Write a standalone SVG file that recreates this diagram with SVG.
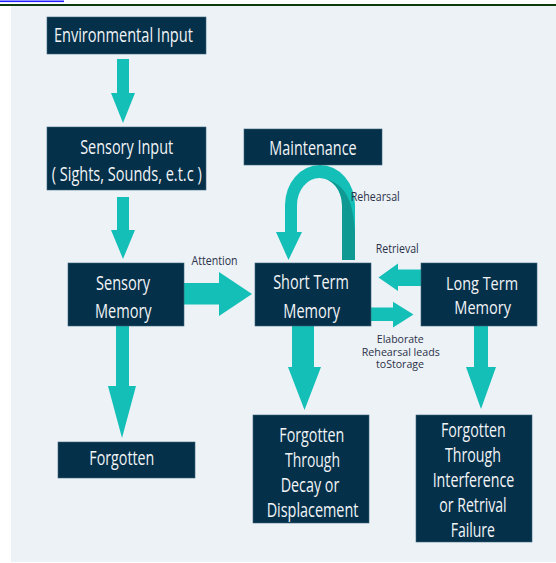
<svg xmlns="http://www.w3.org/2000/svg" width="556" height="563" viewBox="0 0 556 563">
<style>
.box{fill:#04304a;stroke:#3f6479;stroke-width:0.6}
.bt{font-family:"Open Sans","Liberation Sans",sans-serif;font-size:20px;fill:#f2f4f6;text-anchor:middle}
.lb{font-family:"Open Sans","Liberation Sans",sans-serif;font-size:13px;fill:#2b3148;text-anchor:middle}
.sm{font-size:11px}
.ar{fill:#13bfb7}
.dk{fill:#0e9a92}
</style>
<rect x="0" y="0" width="556" height="563" fill="#ffffff"/>
<rect x="11" y="6" width="545" height="556" fill="#edf2f6"/>
<rect x="0" y="4" width="556" height="2" fill="#0b3a0b"/>
<rect x="0" y="0.5" width="64" height="1.6" fill="#1f1fff"/>

<g id="connectors">
  <polygon class="ar" points="117,59 129,59 129,93 135,93 123,123 111,93 117,93"/>
  <polygon class="ar" points="117,197 129,197 129,230 135,230 123,259 111,230 117,230"/>
  <polygon class="ar" points="116,326 129,326 129,386 136,386 122,438 108,386 116,386"/>
  <polygon class="ar" points="184,283 219,283 219,272 252,294 219,316 219,304.5 184,304.5"/>
  <polygon class="ar" points="292,326 314,326 314,367 321,367 304.5,410 288,367 292,367"/>
  <polygon class="ar" points="474,326 488,326 488,367 496,367 481,409 466,367 474,367"/>
  <polygon class="ar" points="421,269.5 398,269.5 398,263.5 378.5,277.5 398,291 398,286 421,286"/>
  <polygon class="ar" points="371,307.5 393,307.5 393,301.7 413.5,314.5 393,327.5 393,321 371,321"/>
  <path class="ar" d="M342 260 L342 205 A22.5 27 0 0 0 297 205 L297 232 L302 232 L288.5 260 L276 232 L285 232 L285 205 A35 40 0 0 1 355 205 L355 260 Z"/>
  <path class="dk" d="M320 178 A22.5 27 0 0 1 342 205 L342 260 L355 260 L355 232 C353 198 344 181 320 178 Z"/>
  <text class="lb" x="214.5" y="265" textLength="46" lengthAdjust="spacingAndGlyphs">Attention</text>
  <text class="lb" x="375.3" y="201" textLength="49" lengthAdjust="spacingAndGlyphs">Rehearsal</text>
  <text class="lb" x="397.3" y="253.3" textLength="43" lengthAdjust="spacingAndGlyphs">Retrieval</text>
  <text class="lb sm" x="400.3" y="343" textLength="47" lengthAdjust="spacingAndGlyphs">Elaborate</text>
  <text class="lb sm" x="400.8" y="356.3" textLength="78" lengthAdjust="spacingAndGlyphs">Rehearsal leads</text>
  <text class="lb sm" x="400" y="368" textLength="48" lengthAdjust="spacingAndGlyphs">toStorage</text>
</g>

<g id="environmental-input">
  <rect class="box" x="47" y="17" width="159" height="37"/>
  <text class="bt" x="123.4" y="41.5" textLength="139" lengthAdjust="spacingAndGlyphs">Environmental Input</text>
</g>
<g id="sensory-input">
  <rect class="box" x="47" y="127" width="159" height="63"/>
  <text class="bt" x="126.7" y="153.5" textLength="93" lengthAdjust="spacingAndGlyphs">Sensory Input</text>
  <text class="bt" x="126.7" y="180.5" textLength="150" lengthAdjust="spacingAndGlyphs">( Sights, Sounds, e.t.c )</text>
</g>
<g id="sensory-memory">
  <rect class="box" x="68" y="263" width="116" height="63"/>
  <text class="bt" x="123" y="290" textLength="54" lengthAdjust="spacingAndGlyphs">Sensory</text>
  <text class="bt" x="123.3" y="317.7" textLength="56.7" lengthAdjust="spacingAndGlyphs">Memory</text>
</g>
<g id="forgotten">
  <rect class="box" x="58" y="442" width="137" height="36"/>
  <text class="bt" x="121.8" y="464.5" textLength="65" lengthAdjust="spacingAndGlyphs">Forgotten</text>
</g>
<g id="maintenance">
  <rect class="box" x="244" y="129" width="138" height="36"/>
  <text class="bt" x="313" y="154.5" textLength="87.3" lengthAdjust="spacingAndGlyphs">Maintenance</text>
</g>
<g id="short-term-memory">
  <rect class="box" x="255" y="263" width="116" height="63"/>
  <text class="bt" x="311" y="289.3" textLength="75.7" lengthAdjust="spacingAndGlyphs">Short Term</text>
  <text class="bt" x="311.7" y="318.3" textLength="56.7" lengthAdjust="spacingAndGlyphs">Memory</text>
</g>
<g id="long-term-memory">
  <rect class="box" x="421" y="263" width="116" height="63"/>
  <text class="bt" x="482" y="290" textLength="72" lengthAdjust="spacingAndGlyphs" style="font-size:19px">Long Term</text>
  <text class="bt" x="482.7" y="313.5" textLength="56.7" lengthAdjust="spacingAndGlyphs" style="font-size:19px">Memory</text>
</g>
<g id="forgotten-decay">
  <rect class="box" x="253" y="415" width="116" height="108"/>
  <text class="bt" x="311.8" y="441.7" textLength="65" lengthAdjust="spacingAndGlyphs">Forgotten</text>
  <text class="bt" x="312.5" y="466.7" textLength="55" lengthAdjust="spacingAndGlyphs">Through</text>
  <text class="bt" x="310" y="491.7" textLength="58.7" lengthAdjust="spacingAndGlyphs">Decay or</text>
  <text class="bt" x="312.5" y="516.7" textLength="91.7" lengthAdjust="spacingAndGlyphs">Displacement</text>
</g>
<g id="forgotten-interference">
  <rect class="box" x="416" y="415" width="116" height="127"/>
  <text class="bt" x="473.3" y="437.3" textLength="64.7" lengthAdjust="spacingAndGlyphs">Forgotten</text>
  <text class="bt" x="473" y="462.3" textLength="56" lengthAdjust="spacingAndGlyphs">Through</text>
  <text class="bt" x="473.5" y="487.3" textLength="81.7" lengthAdjust="spacingAndGlyphs">Interference</text>
  <text class="bt" x="473" y="511.7" textLength="67.3" lengthAdjust="spacingAndGlyphs">or Retrival</text>
  <text class="bt" x="472.8" y="536.7" textLength="44.3" lengthAdjust="spacingAndGlyphs">Failure</text>
</g>
</svg>
